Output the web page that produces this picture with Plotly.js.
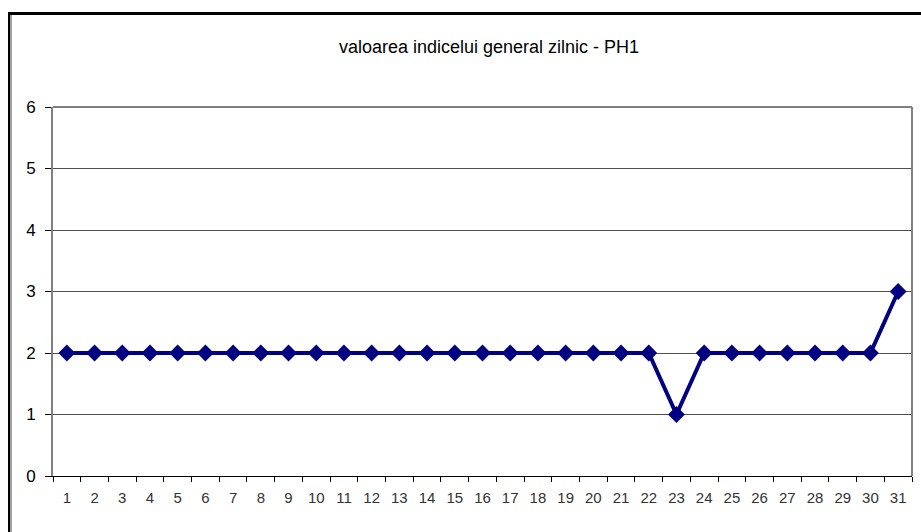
<!DOCTYPE html>
<html>
<head>
<meta charset="utf-8">
<script src="https://cdn.plot.ly/plotly-3.0.1.min.js"></script>
<style>
html,body{margin:0;padding:0;background:#fff;}
#wrap{position:relative;width:921px;height:532px;overflow:hidden;}
#chart{position:absolute;left:0;top:0;width:921px;height:532px;}
#frame{position:absolute;left:8px;top:12px;width:930px;height:540px;border-left:2px solid #000;border-top:3px solid #000;pointer-events:none;}
#frame2{position:absolute;left:10px;top:15px;width:2px;height:540px;background:#a0a0a0;pointer-events:none;}
</style>
</head>
<body>
<div id="wrap">
<div id="chart"></div>
<div id="frame"></div>
<div id="frame2"></div>
</div>
<script>
const days = ['1','2','3','4','5','6','7','8','9','10','11','12','13','14','15','16','17','18','19','20','21','22','23','24','25','26','27','28','29','30','31'];
const values = [2,2,2,2,2,2,2,2,2,2,2,2,2,2,2,2,2,2,2,2,2,2,1,2,2,2,2,2,2,2,3];
const chartTitle = 'valoarea indicelui general zilnic - PH1';
const yTicks = [0,1,2,3,4,5,6];

const trace = {
  x: days, y: values, type: 'scatter', mode: 'lines+markers',
  line: {color: '#000080', width: 4},
  marker: {symbol: 'diamond', size: 13, color: '#000080'},
  cliponaxis: false, hoverinfo: 'skip'
};

const layout = {
  width: 921, height: 532,
  margin: {l: 53, r: 9, t: 107, b: 56},
  paper_bgcolor: '#fff', plot_bgcolor: '#fff',
  showlegend: false,
  font: {family: 'Liberation Sans, Arial, sans-serif', color: '#000'},
  title: {text: chartTitle, x: 0.531, xanchor: 'center', y: 0.912, yanchor: 'middle',
          font: {size: 18, color: '#000', family: 'Liberation Sans, Arial, sans-serif'}},
  xaxis: {
    type: 'category', categoryorder: 'array', categoryarray: days,
    range: [-0.5, days.length - 0.5],
    tickson: 'boundaries', ticks: 'outside', ticklen: 5, tickcolor: '#000', tickwidth: 1,
    showline: true, linecolor: '#000', linewidth: 1,
    showgrid: false, zeroline: false,
    tickfont: {size: 15, color: '#333'}, ticklabelstandoff: 8,
    mirror: false
  },
  yaxis: {
    range: [0, 6], tickvals: yTicks, ticktext: yTicks.map(String),
    ticks: 'outside', ticklen: 6, tickcolor: '#000',
    showline: true, linecolor: '#808080', linewidth: 2,
    showgrid: true, gridcolor: '#505050', gridwidth: 1,
    zeroline: false,
    tickfont: {size: 17, color: '#000'}, ticklabelstandoff: 6
  },
  shapes: [
    {type: 'line', xref: 'paper', yref: 'paper', x0: 0, x1: 1, y0: 1, y1: 1, line: {color: '#808080', width: 2}},
    {type: 'line', xref: 'paper', yref: 'paper', x0: 1, x1: 1, y0: 0, y1: 1, line: {color: '#808080', width: 2}}
  ]
};

Plotly.newPlot('chart', [trace], layout, {displayModeBar: false, staticPlot: true});
</script>
</body>
</html>
